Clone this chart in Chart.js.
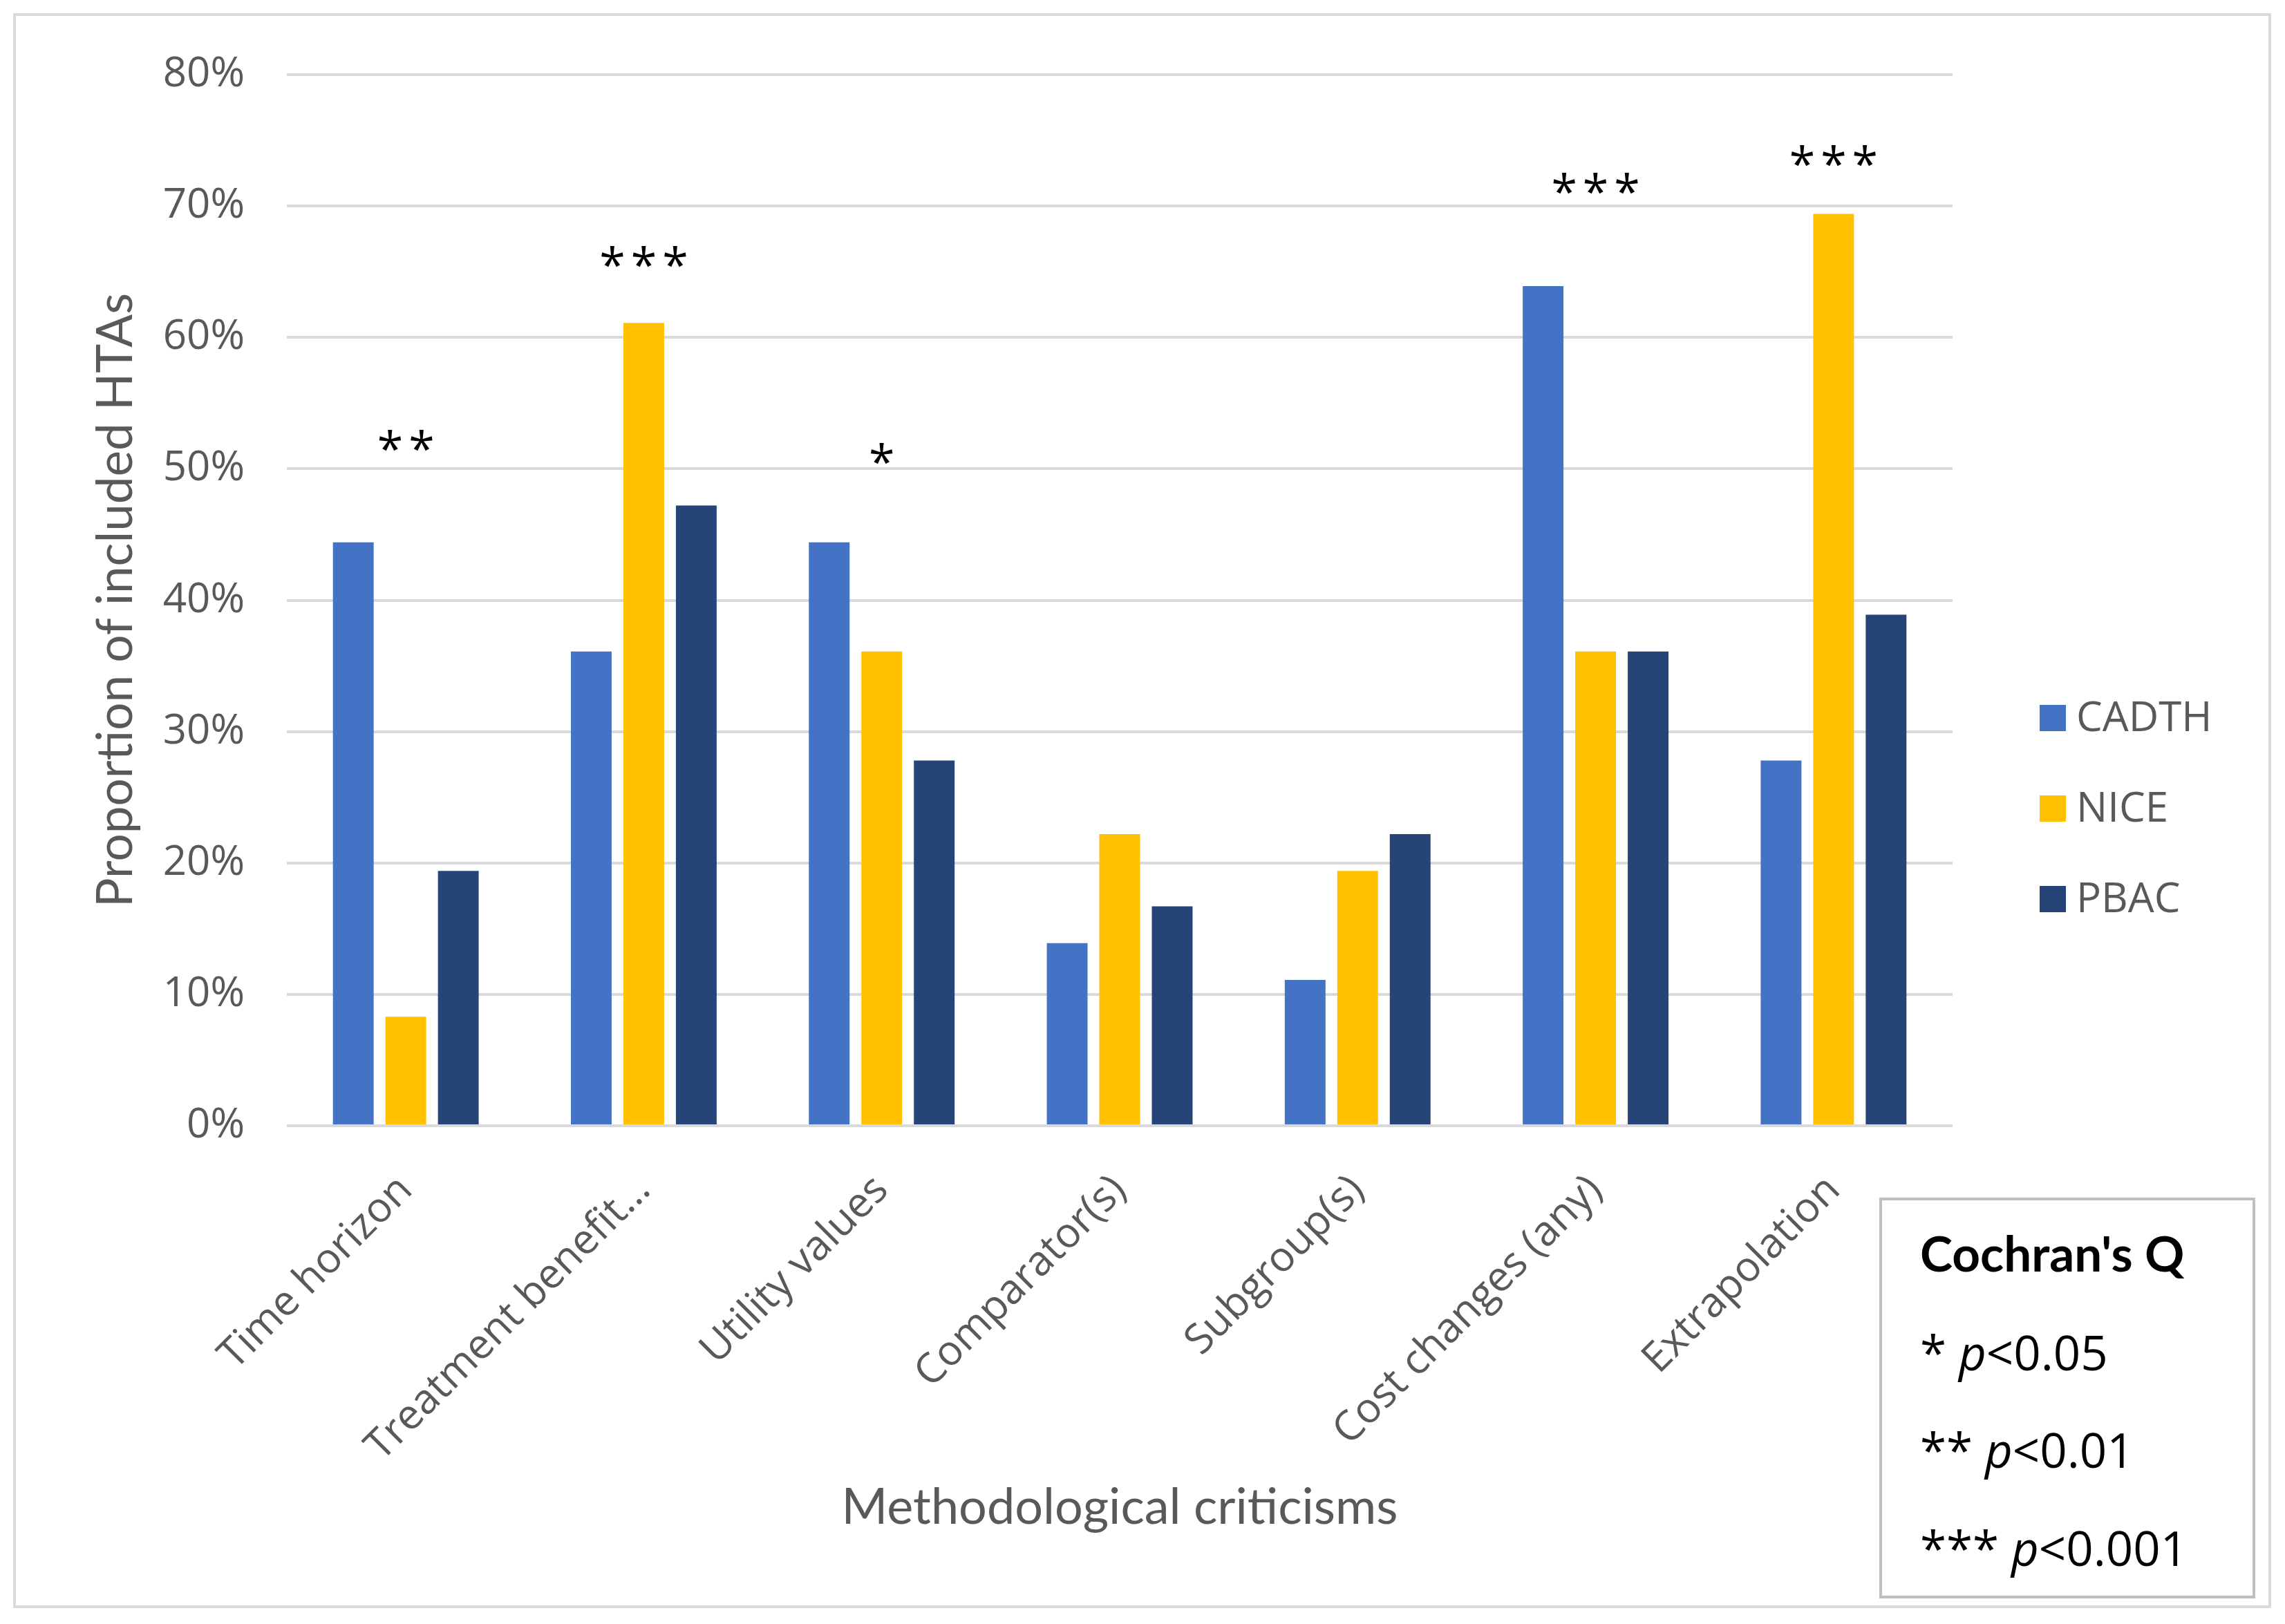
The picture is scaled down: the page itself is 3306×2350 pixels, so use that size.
<!DOCTYPE html>
<html><head><meta charset="utf-8">
<script src="https://cdn.jsdelivr.net/npm/chart.js@4.4.1/dist/chart.umd.min.js"></script>
<style>
html,body{margin:0;padding:0;background:#fff;}
#wrap{position:relative;width:3306px;height:2350px;overflow:hidden;}
#c{position:absolute;left:0;top:0;}
#qbox{position:absolute;left:2719px;top:1733px;width:544px;height:580px;border:4px solid #bfbfbf;box-sizing:border-box;background:#fff;}
.ql{position:absolute;left:55px;font-family:'Open Sans',sans-serif;font-size:69px;color:#000;line-height:84px;white-space:nowrap;}
.qt{font-family:Lato,'Open Sans',sans-serif;font-weight:bold;font-size:71px;}
</style>
</head><body>
<div id="wrap">
<canvas id="c" width="3306" height="2350"></canvas>
<div id="qbox">
  <div class="ql qt" style="top:34px">Cochran's Q</div>
  <div class="ql" style="top:177px">* <i>p</i>&lt;0.05</div>
  <div class="ql" style="top:318px">** <i>p</i>&lt;0.01</div>
  <div class="ql" style="top:460px">*** <i>p</i>&lt;0.001</div>
</div>
</div>
<script>
// ---- data ----
const categories = ['Time horizon', 'Treatment benefit\u2026', 'Utility values', 'Comparator(s)', 'Subgroup(s)', 'Cost changes (any)', 'Extrapolation'];
const seriesNames = ['CADTH', 'NICE', 'PBAC'];
const cadthValues = [44.4, 36.1, 44.4, 13.9, 11.1, 63.9, 27.8];
const niceValues  = [8.3, 61.1, 36.1, 22.2, 19.4, 36.1, 69.4];
const pbacValues  = [19.4, 47.2, 27.8, 16.7, 22.2, 36.1, 38.9];
const significance = ['**', '***', '*', '', '', '***', '***'];
const significanceLevel = [52, 66, 51, null, null, 71.6, 73.7];
const yTickMax = 80;
const yTickStep = 10;
const yAxisTitle = 'Proportion of included HTAs';
const xAxisTitle = 'Methodological criticisms';

const colors = ['#4472C4', '#FFC000', '#264478'];
const gray = '#595959';

const frame = {
  id: 'frame',
  beforeDraw(chart) {
    const ctx = chart.ctx;
    ctx.save();
    ctx.fillStyle = '#fff';
    ctx.fillRect(0, 0, chart.width, chart.height);
    ctx.strokeStyle = '#d9d9d9';
    ctx.lineWidth = 4;
    ctx.strokeRect(21, 21, 3263, 2304);
    ctx.restore();
  }
};

const stars = {
  id: 'stars',
  afterDatasetsDraw(chart) {
    const ctx = chart.ctx;
    const xs = chart.scales.x, ys = chart.scales.y;
    ctx.save();
    ctx.font = '68px "Open Sans"';
    ctx.fillStyle = '#000';
    ctx.textAlign = 'center';
    ctx.textBaseline = 'alphabetic';
    try { ctx.letterSpacing = '8px'; } catch (e) {}
    significance.forEach((s, i) => {
      if (!s) return;
      const x = xs.getPixelForValue(i) + 4;
      const y = ys.getPixelForValue(significanceLevel[i]);
      ctx.fillText(s, x, y + 34);
    });
    ctx.restore();
  }
};

const sideLegend = {
  id: 'sideLegend',
  afterDraw(chart) {
    const ctx = chart.ctx;
    ctx.save();
    ctx.font = '60px "Open Sans"';
    ctx.textBaseline = 'middle';
    ctx.textAlign = 'left';
    chart.data.datasets.forEach((ds, i) => {
      const cy = 1039 + i * 131;
      ctx.fillStyle = ds.backgroundColor;
      ctx.fillRect(2951, cy - 19, 38, 38);
      ctx.fillStyle = gray;
      ctx.fillText(ds.label, 3004, cy + 2);
    });
    ctx.restore();
  }
};

new Chart(document.getElementById('c'), {
  type: 'bar',
  data: {
    labels: categories,
    datasets: [
      { label: seriesNames[0], data: cadthValues, backgroundColor: colors[0] },
      { label: seriesNames[1], data: niceValues, backgroundColor: colors[1] },
      { label: seriesNames[2], data: pbacValues, backgroundColor: colors[2] }
    ]
  },
  options: {
    responsive: false,
    animation: false,
    devicePixelRatio: 1,
    categoryPercentage: 0.662,
    barPercentage: 0.776,
    layout: { padding: { left: 0, right: 481, top: 108, bottom: 0 } },
    plugins: {
      legend: { display: false },
      tooltip: { enabled: false }
    },
    scales: {
      x: {
        grid: { display: false },
        border: { display: false },
        ticks: {
          autoSkip: false,
          minRotation: 45,
          maxRotation: 45,
          padding: 50,
          color: gray,
          font: { family: 'Open Sans', size: 60 }
        },
        title: {
          display: true,
          text: xAxisTitle,
          color: gray,
          font: { family: 'Lato', size: 72 },
          padding: { top: 0, bottom: 125 }
        },
        afterFit(scale) { scale.height = 721; }
      },
      y: {
        min: 0,
        max: yTickMax,
        grid: { color: '#d9d9d9', lineWidth: 4, drawTicks: false },
        border: { display: false },
        ticks: {
          stepSize: yTickStep,
          padding: 61,
          color: gray,
          font: { family: 'Open Sans', size: 60 },
          callback: v => v + '%'
        },
        title: {
          display: true,
          text: yAxisTitle,
          color: gray,
          font: { family: 'Lato', size: 71 },
          padding: { top: 126, bottom: 0 }
        },
        afterFit(scale) { scale.width = 415; }
      }
    }
  },
  plugins: [frame, stars, sideLegend]
});
</script>
</body></html>
